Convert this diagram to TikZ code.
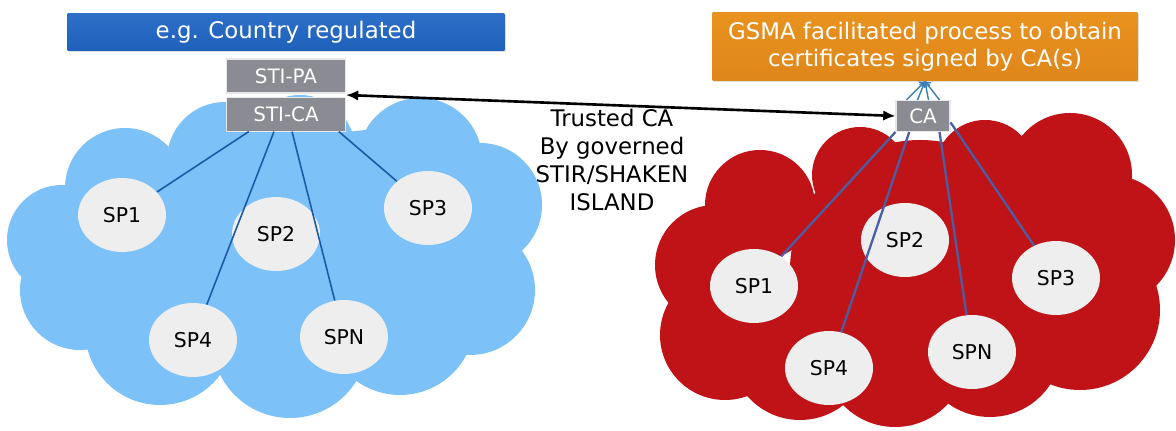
\documentclass[tikz,border=0pt]{standalone}
\usepackage{fontspec}
\setmainfont{DejaVu Sans}
\usetikzlibrary{arrows.meta,positioning,calc,shapes.geometric,shadows}

\definecolor{barblue}{HTML}{1F60BA}
\definecolor{barbluetop}{HTML}{2D70C8}
\definecolor{gsmaorange}{HTML}{DF861A}
\definecolor{gsmaorangetop}{HTML}{E8921F}
\definecolor{boxgrey}{HTML}{8B8B93}
\definecolor{skycloud}{HTML}{7CC1F7}
\definecolor{redcloud}{HTML}{C01317}
\definecolor{spgrey}{HTML}{EEEEEE}
\definecolor{linkblue}{HTML}{1B5AA6}
\definecolor{calink}{HTML}{4A5EA6}

\begin{document}
\begin{tikzpicture}[x=0.02cm,y=-0.02cm,
  banner/.style={rectangle,inner sep=0pt,text=white,align=center,
    font=\fontsize{13}{15.3}\selectfont,
    drop shadow={opacity=0.25,shadow xshift=0.8pt,shadow yshift=-0.8pt}},
  stibox/.style={rectangle,fill=boxgrey,draw=white!80!boxgrey,line width=0.6pt,
    text=white,inner sep=0pt,minimum width=2.38cm,minimum height=0.68cm,
    font=\fontsize{11.3}{13}\selectfont},
  sp/.style={ellipse,fill=spgrey,inner sep=0pt,minimum width=1.76cm,
    minimum height=1.48cm,font=\fontsize{11.6}{13}\selectfont},
  link/.style={draw=linkblue,line width=0.9pt},
  calink/.style={draw=calink,line width=1.3pt},
  fan/.style={draw=calink!80!cyan,line width=0.8pt,-{To[length=3pt,width=5pt]}},
  trust/.style={line width=1.5pt,{Latex[length=7pt,width=6pt]}-{Latex[length=7pt,width=6pt]}}]

\useasboundingbox (0,0) rectangle (1176,431);
\fill[white] (0,0) rectangle (1176,431);

% country cloud
\foreach \cx/\cy/\r in {125/188/60, 225/160/58, 300/150/55, 420/160/62,
    480/205/62, 470/290/65, 400/320/75, 290/340/78, 160/330/75,
    80/290/60, 62/240/55, 280/250/125, 370/240/110, 170/245/75}
  \fill[skycloud] (\cx,\cy) circle[radius=\r*0.02cm];

% GSMA cloud
\foreach \cx/\cy/\r in {760/205/55, 715/265/60, 725/335/65, 800/350/70,
    895/355/72, 990/345/72, 1080/310/80, 1110/240/65, 1070/175/62,
    985/170/50, 860/175/48, 920/270/130, 1010/270/110}
  \fill[redcloud] (\cx,\cy) circle[radius=\r*0.02cm];

% banners
\node[banner,top color=barbluetop,bottom color=barblue,minimum width=8.74cm,
  minimum height=0.74cm] (reg) at (286,32) {e.g. Country regulated};
\node[banner,top color=gsmaorangetop,bottom color=gsmaorange,minimum width=8.5cm,
  minimum height=1.36cm] (gsma) at (925,47)
  {GSMA facilitated process to obtain\\certificates signed by CA(s)};

% authority boxes
\node[stibox] (stipa) at (286,76) {STI-PA};
\node[stibox,below=0.06cm of stipa] (stica) {STI-CA};
\node[stibox,minimum width=1.08cm,minimum height=0.62cm] (ca) at (923,116) {CA};

% service providers, country side
\node[sp] (l1) at (122,215) {SP1};
\node[sp] (l2) at (276,234) {SP2};
\node[sp] (l3) at (428,208) {SP3};
\node[sp] (l4) at (193,340) {SP4};
\node[sp] (ln) at (344,337) {SPN};

% service providers, GSMA side
\node[sp] (r1) at (754,286) {SP1};
\node[sp] (r2) at (905,240) {SP2};
\node[sp] (r3) at (1056,278) {SP3};
\node[sp] (r4) at (829,368) {SP4};
\node[sp] (rn) at (972,352) {SPN};

\draw[link] ($(stica.south west)!.19!(stica.south east)$) -- (l1);
\draw[link] ($(stica.south west)!.40!(stica.south east)$) -- (l4);
\draw[link] ($(stica.south west)!.55!(stica.south east)$) -- (ln);
\draw[link] ($(stica.south west)!.94!(stica.south east)$) -- (l3);

\draw[calink] (ca.south west) -- (r1);
\draw[calink] ($(ca.south west)!.25!(ca.south east)$) -- (r4);
\draw[calink] ($(ca.south west)!.80!(ca.south east)$) -- (rn);
\draw[calink] ($(ca.north east)!.7!(ca.south east)$) -- (r3);

\foreach \f in {0.2,0.4,0.6,0.8}
  \draw[fan] ($(ca.north west)!\f!(ca.north east)$) -- (gsma.south);

% trust link between the two islands
\coordinate (pajoin) at ($(stipa.south east)!.5!(stica.north east)$);
\draw[trust] (pajoin) -- (ca.west);
\node[align=center,font=\fontsize{13}{15.9}\selectfont] (trusted) at (612,160)
  {Trusted CA\\By governed\\STIR/SHAKEN\\ISLAND};

\end{tikzpicture}
\end{document}
